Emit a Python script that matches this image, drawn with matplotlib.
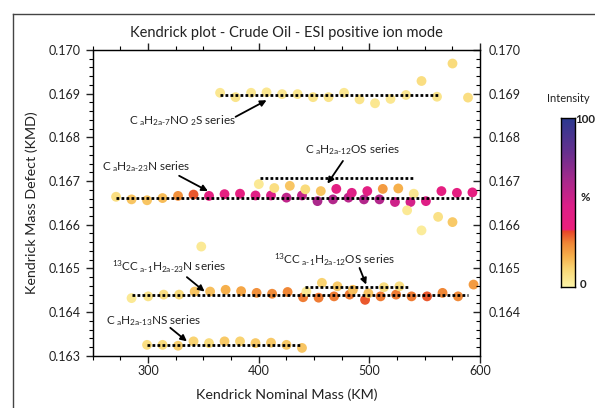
import matplotlib
matplotlib.use("Agg")
import matplotlib.pyplot as plt
from matplotlib.colors import LinearSegmentedColormap
from matplotlib.lines import Line2D
import numpy as np

plt.rcParams['font.family'] = ['Lato', 'DejaVu Sans']
plt.rcParams['mathtext.fontset'] = 'custom'
plt.rcParams['mathtext.rm'] = 'Lato'
plt.rcParams['mathtext.it'] = 'Lato:italic'

# --- data ---
# C_aH_2a-7NO2S series
no2s_km = [365, 379, 393, 407, 421, 435, 449, 463, 477, 491, 505, 519, 533, 547, 561, 575, 589]
no2s_kmd = [0.16902, 0.16892, 0.16902, 0.16903, 0.16899, 0.16899, 0.16892, 0.16892, 0.16902,
            0.16887, 0.16878, 0.16888, 0.16897, 0.16929, 0.16893, 0.16969, 0.16891]
no2s_int = [5, 6, 5, 5, 5, 5, 6, 6, 5, 6, 5, 5, 5, 8, 6, 9, 8]

# C_aH_2a-23N series
n_km = [271, 285, 299, 313, 327, 341, 355, 369, 383, 397, 411, 425, 439, 453, 467, 481,
        495, 509, 523, 537, 551, 565, 579, 593]
n_kmd = [0.16664, 0.16658, 0.16656, 0.16661, 0.16666, 0.16669, 0.16666, 0.16670, 0.16671,
         0.16667, 0.16667, 0.16662, 0.16667, 0.16654, 0.16658, 0.16662, 0.16658, 0.16658,
         0.16652, 0.16652, 0.16654, 0.16677, 0.16673, 0.16674]
n_int = [8, 14, 14, 16, 24, 31, 40, 40, 40, 44, 48, 56, 55, 62, 60, 58, 60, 60, 52, 50,
         45, 40, 40, 40]

# C_aH_2a-12OS series
os_km = [400, 414, 428, 442, 456, 470, 484, 498, 512, 526, 540]
os_kmd = [0.16693, 0.16684, 0.16689, 0.16681, 0.16677, 0.16682, 0.16673, 0.16677,
          0.16682, 0.16683, 0.16671]
os_int = [4, 8, 14, 9, 14, 42, 46, 42, 22, 18, 5]

# stray peaks
other_km = [534, 562, 575, 547, 348]
other_kmd = [0.16633, 0.16618, 0.16606, 0.16587, 0.16550]
other_int = [4, 7, 13, 3, 4]

# 13C C_a-1H_2a-23N series
c13n_km = [285, 300, 314, 328, 342, 356, 370, 384, 398, 412, 426, 440, 454, 468, 482,
           496, 510, 524, 538, 552, 566, 580, 594]
c13n_kmd = [0.16432, 0.16436, 0.16440, 0.16440, 0.16447, 0.16447, 0.16451, 0.16448,
            0.16444, 0.16442, 0.16446, 0.16434, 0.16433, 0.16436, 0.16440, 0.16428,
            0.16436, 0.16440, 0.16436, 0.16436, 0.16444, 0.16436, 0.16463]
c13n_int = [4, 6, 8, 9, 14, 15, 18, 20, 24, 25, 26, 27, 27, 27, 27, 31, 27, 27, 27, 31,
            26, 25, 22]

# 13C C_a-1H_2a-12OS series
c13os_km = [443, 457, 471, 485, 499, 513, 527]
c13os_kmd = [0.16447, 0.16467, 0.16459, 0.16451, 0.16443, 0.16457, 0.16459]
c13os_int = [4, 11, 13, 15, 14, 8, 8]

# C_aH_2a-13NS series
ns_km = [299, 313, 327, 341, 355, 369, 383, 397, 411, 425, 439]
ns_kmd = [0.16325, 0.16325, 0.16323, 0.16333, 0.16329, 0.16333, 0.16333, 0.16329,
          0.16330, 0.16325, 0.16318]
ns_int = [8, 9, 12, 11, 9, 13, 11, 13, 13, 13, 14]

# dotted series lines: (km start, km end, kmd)
series_lines = [(365, 562, 0.16897), (271, 593, 0.16661), (401, 539, 0.16706),
                (285, 589, 0.16440), (442, 536, 0.16457), (299, 438, 0.16325)]

# labels: text, text centre, arrow tail, arrow head
labels = [
    (r"C$_{\mathregular{\ a}}$H$_{\mathregular{2a\text{-}7}}$NO$_{\mathregular{\ 2}}$S series",
     (331, 0.16839), (379, 0.16847), (407, 0.16885)),
    (r"C$_{\mathregular{\ a}}$H$_{\mathregular{2a\text{-}23}}$N series",
     (298, 0.16734), (328, 0.16712), (354, 0.16677)),
    (r"C$_{\mathregular{\ a}}$H$_{\mathregular{2a\text{-}12}}$OS series",
     (485, 0.16771), (476, 0.16746), (462, 0.16694)),
    (r"$^{\mathregular{13}}$CC$_{\mathregular{\ a\text{-}1}}$H$_{\mathregular{2a\text{-}23}}$N series",
     (319, 0.16503), (335, 0.16480), (351, 0.16447)),
    (r"$^{\mathregular{13}}$CC$_{\mathregular{\ a\text{-}1}}$H$_{\mathregular{2a\text{-}12}}$OS series",
     (468, 0.16520), (491, 0.16501), (497, 0.16463)),
    (r"C$_{\mathregular{\ a}}$H$_{\mathregular{2a\text{-}13}}$NS series",
     (305, 0.16381), (320, 0.16364), (335, 0.16333)),
]

cmap = LinearSegmentedColormap.from_list("intensity", [
    (0.00, "#fcf4a8"), (0.10, "#f9d877"), (0.18, "#f6b04c"), (0.26, "#f08636"),
    (0.33, "#e8452a"), (0.34, "#ec1f7c"), (0.48, "#dc1f88"), (0.64, "#a42a8c"),
    (0.80, "#66308f"), (1.00, "#2b3990")])

fig = plt.figure(figsize=(5.95, 4.08), dpi=100)
ax = fig.add_axes([0.156, 0.128, 0.651, 0.7495])

groups = [(no2s_km, no2s_kmd, no2s_int), (n_km, n_kmd, n_int), (os_km, os_kmd, os_int),
          (other_km, other_kmd, other_int), (c13n_km, c13n_kmd, c13n_int),
          (c13os_km, c13os_kmd, c13os_int), (ns_km, ns_kmd, ns_int)]
for km, kmd, inten in groups:
    ax.scatter(km, kmd, c=inten, cmap=cmap, vmin=0, vmax=100, s=50,
               edgecolors='none', zorder=2)

for x0, x1, y in series_lines:
    ax.plot([x0, x1], [y, y], color='black', lw=2, ls=(0, (1, 0.8)), zorder=3)

for txt, tpos, tail, head in labels:
    ax.text(tpos[0], tpos[1], txt, ha='center', va='center', fontsize=8.5, color='#222222')
    ax.annotate("", xy=head, xytext=tail,
                arrowprops=dict(arrowstyle='-|>', color='black', lw=1.3,
                                mutation_scale=9, shrinkA=0, shrinkB=0))

ax.set_xlim(250, 600)
ax.set_ylim(0.163, 0.170)
ax.set_xticks([300, 400, 500, 600])
ax.set_xticks(np.arange(250, 601, 25), minor=True)
ax.set_yticks(np.arange(0.163, 0.1705, 0.001))
ax.set_yticks(np.arange(0.163, 0.1701, 0.0002), minor=True)
ax.yaxis.set_major_formatter(plt.FormatStrFormatter('%.3f'))
ax.tick_params(axis='both', which='major', direction='out', length=5, width=1,
               labelsize=9, colors='#222222', top=True)
ax.tick_params(axis='both', which='minor', direction='out', length=3, width=0.8, top=True)
ax.tick_params(axis='x', pad=2)
for s in ax.spines.values():
    s.set_linewidth(1)
    s.set_color('#222222')

ax.set_title("Kendrick plot - Crude Oil - ESI positive ion mode", fontsize=10.5,
             color='#222222', pad=9)
ax.set_xlabel("Kendrick Nominal Mass (KM)", fontsize=10.3, color='#222222', labelpad=8)
ax.set_ylabel("Kendrick Mass Defect (KMD)", fontsize=10.3, color='#222222', labelpad=8)

ax2 = ax.twinx()
ax2.set_ylim(0.163, 0.170)
ax2.set_yticks(np.arange(0.164, 0.1705, 0.001))
ax2.set_yticks(np.arange(0.163, 0.1701, 0.0002), minor=True)
ax2.yaxis.set_major_formatter(plt.FormatStrFormatter('%.3f'))
ax2.tick_params(axis='y', which='major', direction='in', length=5, width=1,
                labelsize=9, colors='#222222', pad=6)
ax2.tick_params(axis='y', which='minor', direction='in', length=3, width=0.8)

# colour bar
cax = fig.add_axes([561 / 595, 1 - 287 / 408, 14 / 595, 169 / 408])
grad = np.linspace(0, 100, 256).reshape(-1, 1)
cax.imshow(grad, cmap=cmap, aspect='auto', origin='lower', extent=[0, 1, 0, 100])
cax.set_xticks([])
cax.set_yticks([])
for s in cax.spines.values():
    s.set_linewidth(1)
fig.text(575.5 / 595, 1 - 119 / 408, "100", fontsize=8.3, fontweight='bold', ha='left',
         va='center', color='#222222')
fig.text(583 / 595, 1 - 284 / 408, "0", fontsize=8.3, fontweight='bold', ha='center',
         va='center', color='#222222')
fig.text(585 / 595, 1 - 197 / 408, "%", fontsize=8.3, fontweight='bold', ha='center',
         va='center', color='#222222')
fig.text(568 / 595, 1 - 98 / 408, "Intensity", fontsize=8, ha='center', va='center',
         color='#222222')

# outer frame
fig.add_artist(Line2D([13 / 595, 1], [1 - 14 / 408, 1 - 14 / 408], color='#444444', lw=1))
fig.add_artist(Line2D([13 / 595, 13 / 595], [0, 1 - 14 / 408], color='#444444', lw=1))

fig.savefig("out.png", dpi=100)
